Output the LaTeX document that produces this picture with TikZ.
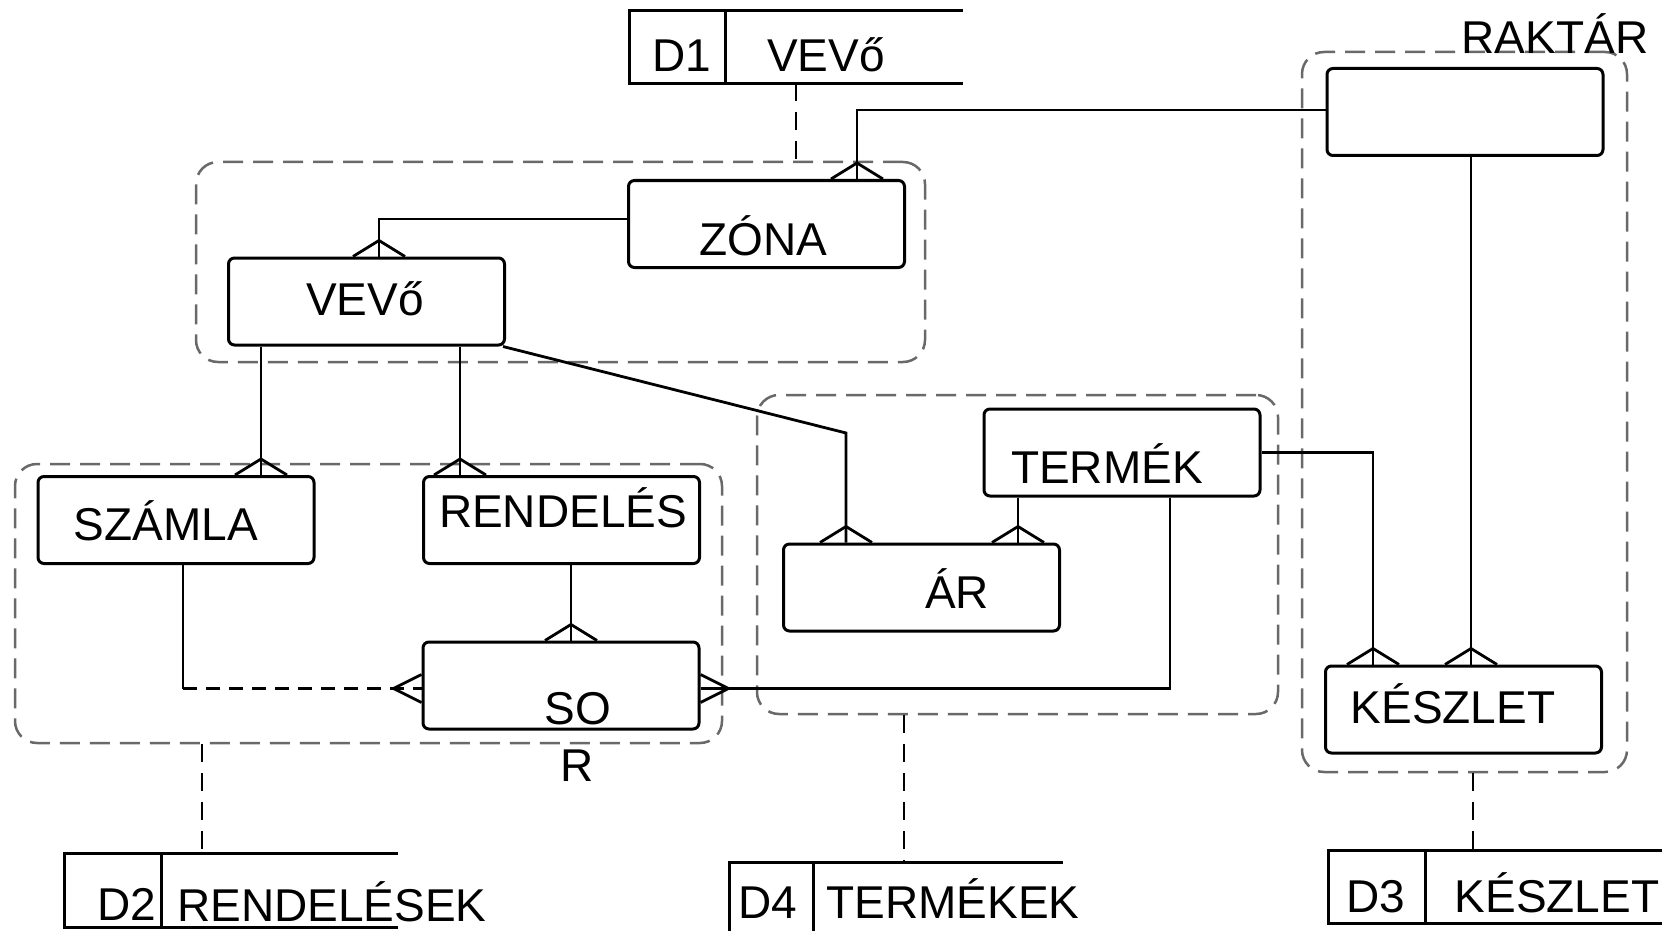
\documentclass[tikz,border=0pt]{standalone}
\usepackage{fontspec}
\setmainfont{Liberation Sans}
\usetikzlibrary{calc}
\definecolor{grpgray}{RGB}{105,105,105}
\begin{document}
\begin{tikzpicture}[x=1pt,y=-1pt,
  ent/.style={rectangle, rounded corners=6pt,
    draw, fill=white, line width=3pt, minimum width=276pt, minimum height=87pt, inner sep=0pt},
  grp/.style={rectangle, draw=grpgray, line width=2.5pt, rounded corners=22pt,
    dash pattern=on 20pt off 10pt, inner sep=0pt},
  store/.style={rectangle, draw=none, inner sep=0pt, minimum width=333pt, minimum height=72pt},
  storeline/.style={line width=3pt},
  slink/.style={line width=2.8pt, dash pattern=on 18pt off 11pt},
  conn/.style={line width=2.8pt},
  dconn/.style={line width=2.8pt, dash pattern=on 14pt off 9pt},
  txt/.style={font=\fontsize{46}{50}\selectfont, anchor=base, inner sep=0pt},
  crowN/.pic={\draw[line width=2.8pt] (-26,0) -- (0,-16) -- (26,0);},
  crowW/.pic={\draw[line width=2.8pt] (0,-14) -- (-28,0) -- (0,14);},
  crowE/.pic={\draw[line width=2.8pt] (0,-14) -- (28,0) -- (0,14);}
]
\useasboundingbox (0,0) rectangle (1671,931);

% groups
\node[grp, minimum width=729pt, minimum height=200pt] (g1) at (560.5,262) {};
\node[grp, minimum width=707pt, minimum height=279pt] (g3) at (368.5,603.5) {};
\node[grp, minimum width=521pt, minimum height=319pt] (g4) at (1017.5,554.5) {};
\node[grp, minimum width=325pt, minimum height=720pt] (g2) at (1464.5,412) {};

% entities
\node[ent] (zona) at (766.5,224) {};
\node[ent] (vevo) at (366.5,301.5) {};
\node[ent] (szamla) at (176,520) {};
\node[ent] (rendeles) at (561.5,520) {};
\node[ent] (sor) at (561,685.5) {};
\node[ent] (ar) at (921.5,587.5) {};
\node[ent] (termek) at (1122,452.5) {};
\node[ent] (raktar) at (1465,112) {};
\node[ent] (keszlet) at (1463.5,709.5) {};

\node[txt] (tzona) at (763,255) {ZÓNA};
\node[txt] (tvevo) at (365,315) {VEVő};
\node[txt] (tszamla) at (166,540) {SZÁMLA};
\node[txt] (trendeles) at (563,527) {RENDELÉS};
\node[txt] (tso) at (578,724) {SO};
\node[txt] (tr) at (577,781) {R};
\node[txt] (tar) at (957,608) {ÁR};
\node[txt] (ttermek) at (1107,483) {TERMÉK};
\node[txt] (traktar) at (1555,54) {RAKTÁR};
\node[txt] (tkeszlet) at (1453,723) {KÉSZLET};

% connector coordinates
\coordinate (c1) at (857,0);
\coordinate (c2) at (379,0);
\coordinate (c3) at (261,0);
\coordinate (c4) at (460,0);
\coordinate (c5) at (846,433);
\coordinate (c6) at (1018,0);
\coordinate (c7) at (571,0);
\coordinate (c8) at (183,0);
\coordinate (c9) at (1170,0);
\coordinate (c10) at (1373,0);
\coordinate (c11) at (1471,0);
\coordinate (sw) at ([yshift=-3pt]sor.west);
\coordinate (se) at ([yshift=-3pt]sor.east);

\draw[conn] ([yshift=2pt]raktar.west) -| (zona.north -| c1);
\pic at (zona.north -| c1) {crowN};
\draw[conn] ([yshift=5pt]zona.west) -| (vevo.north -| c2);
\pic at (vevo.north -| c2) {crowN};
\draw[conn] (vevo.south -| c3) -- (szamla.north -| c3);
\pic at (szamla.north -| c3) {crowN};
\draw[conn] (vevo.south -| c4) -- (rendeles.north -| c4);
\pic at (rendeles.north -| c4) {crowN};
\draw[conn] ([xshift=-3pt]vevo.south east) -- (c5) -- (ar.north -| c5);
\pic at (ar.north -| c5) {crowN};
\draw[conn] (termek.south -| c6) -- (ar.north -| c6);
\pic at (ar.north -| c6) {crowN};
\draw[conn] (rendeles.south -| c7) -- (sor.north -| c7);
\pic at (sor.north -| c7) {crowN};
\draw[conn] (szamla.south -| c8) -- (sw -| c8);
\draw[dconn] (sw -| c8) -- (sw);
\pic at (sw) {crowW};
\draw[conn] (termek.south -| c9) |- (se);
\pic at (se) {crowE};
\draw[conn] (termek.east) -| (keszlet.north -| c10);
\pic at (keszlet.north -| c10) {crowN};
\draw[conn] (raktar.south -| c11) -- (keszlet.north -| c11);
\pic at (keszlet.north -| c11) {crowN};

% data stores
\node[store] (d1) at (796.5,47) {};
\draw[storeline] (d1.north east) -- (d1.north west) -- (d1.south west) -- (d1.south east);
\draw[storeline] ([xshift=96pt]d1.north west) -- ([xshift=96pt]d1.south west);
\node[txt] (td1) at (682,72) {D1};
\node[txt] (td1n) at (826,72) {VEVő};

\node[store, minimum height=73pt] (d2) at (231.5,890.5) {};
\draw[storeline] (d2.north east) -- (d2.north west) -- (d2.south west) -- (d2.south east);
\draw[storeline] ([xshift=97pt]d2.north west) -- ([xshift=97pt]d2.south west);
\node[txt] (td2) at (127,920) {D2};
\node[txt] (td2n) at (332,921) {RENDELÉSEK};

\node[store] (d4) at (896.5,899) {};
\draw[storeline] (d4.north east) -- (d4.north west) -- (d4.south west) -- (d4.south east);
\draw[storeline] ([xshift=84pt]d4.north west) -- ([xshift=84pt]d4.south west);
\node[txt] (td4) at (768,918) {D4};
\node[txt] (td4n) at (953,918) {TERMÉKEK};

\node[store] (d3) at (1495.5,887) {};
\draw[storeline] (d3.north east) -- (d3.north west) -- (d3.south west) -- (d3.south east);
\draw[storeline] ([xshift=97pt]d3.north west) -- ([xshift=97pt]d3.south west);
\node[txt] (td3) at (1376,912) {D3};
\node[txt] (td3n) at (1557,912) {KÉSZLET};

% store links
\coordinate (l1) at (796,0);
\coordinate (l2) at (202,0);
\coordinate (l4) at (904,0);
\coordinate (l3) at (1473,0);
\draw[slink] (d1.south -| l1) -- (g1.north -| l1);
\draw[slink] (g3.south -| l2) -- (d2.north -| l2);
\draw[slink] (g4.south -| l4) -- (d4.north -| l4);
\draw[slink] (g2.south -| l3) -- (d3.north -| l3);
\end{tikzpicture}
\end{document}
